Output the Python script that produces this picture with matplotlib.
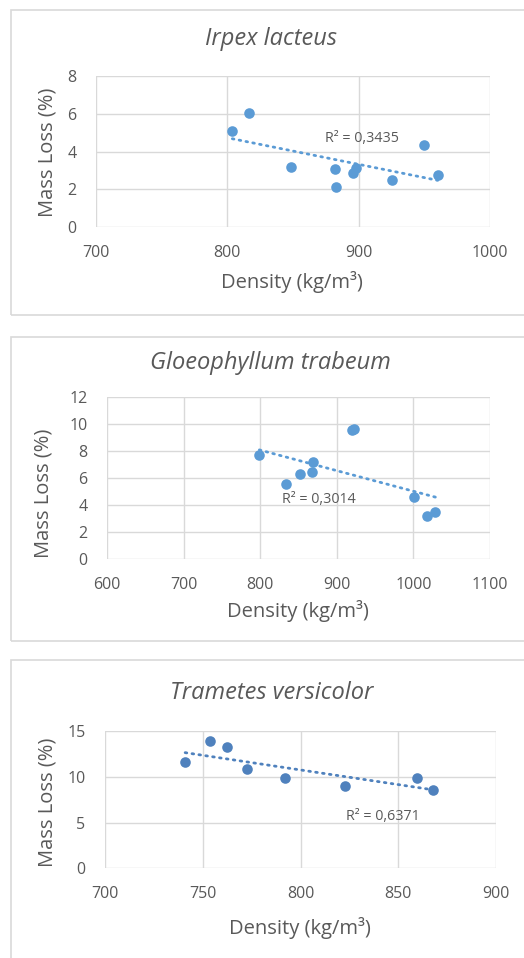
#!/usr/bin/env python3
"""Mass loss vs. density for three decay fungi, Excel-style scatter panels."""
import numpy as np
import matplotlib
matplotlib.use("Agg")
import matplotlib.pyplot as plt
from matplotlib.patches import Rectangle

W, H = 524, 958

# --- data ---
irpex_density = [803.8, 816.8, 848.2, 882.0, 882.7, 895.4, 898.0, 925.1, 949.5, 960.2]
irpex_loss = [5.11, 6.05, 3.20, 3.06, 2.12, 2.88, 3.13, 2.51, 4.35, 2.74]

gloeo_density = [798.9, 833.3, 852.0, 868.1, 869.4, 919.4, 922.9, 1001.3, 1017.4, 1028.7]
gloeo_loss = [7.75, 5.60, 6.32, 6.49, 7.23, 9.58, 9.68, 4.64, 3.19, 3.48]

trametes_density = [741.0, 753.6, 762.3, 772.5, 792.3, 822.7, 859.7, 867.7]
trametes_loss = [11.64, 13.94, 13.32, 10.84, 9.85, 9.01, 9.85, 8.61]

titles = ["Irpex lacteus", "Gloeophyllum trabeum", "Trametes versicolor"]
r2_labels = ["R² = 0,3435", "R² = 0,3014", "R² = 0,6371"]

TEXT = "#595959"
GRID = "#D9D9D9"
FONT = "Open Sans"


def fx(x):
    return x / W


def fy(y):
    return 1 - y / H


def panel(fig, box, frame, xs, ys, xlim, xticks, ylim, yticks, color,
          title, title_xy, xlabel_xy, ylabel_xy, r2, r2_xy):
    x0, y0, x1, y1 = box
    ax = fig.add_axes([fx(x0), fy(y1), (x1 - x0) / W, (y1 - y0) / H])

    # outer chart frame (cut off at the right edge like the screenshot)
    fy0, fy1 = frame
    fig.patches.append(Rectangle((fx(11), fy(fy1)), 1.0, (fy1 - fy0) / H,
                                 transform=fig.transFigure, fill=False,
                                 edgecolor=GRID, linewidth=1.2, zorder=0))

    ax.scatter(xs, ys, s=58, color=color, zorder=3, linewidths=0)

    # linear trendline over the data range
    k, b = np.polyfit(xs, ys, 1)
    tx = np.array([min(xs), max(xs)])
    ax.plot(tx, k * tx + b, color=color, linewidth=2.0,
            linestyle=(0, (0.6, 1.9)), dash_capstyle="round", zorder=2)

    ax.set_xlim(*xlim)
    ax.set_ylim(*ylim)
    ax.set_xticks(xticks)
    ax.set_yticks(yticks)
    ax.grid(True, color=GRID, linewidth=1.0)
    ax.set_axisbelow(True)
    for s in ax.spines.values():
        s.set_visible(False)
    ax.tick_params(length=0, labelsize=11.5, labelcolor=TEXT)
    ax.tick_params(axis="x", pad=13)
    ax.tick_params(axis="y", pad=14)
    for lbl in ax.get_xticklabels() + ax.get_yticklabels():
        lbl.set_family(FONT)

    fig.text(fx(title_xy[0]), fy(title_xy[1]), title, ha="center", va="center",
             fontsize=17, style="italic", color=TEXT, family=FONT)
    fig.text(fx(xlabel_xy[0]), fy(xlabel_xy[1]), "Density (kg/m³)",
             ha="center", va="center", fontsize=14.5, color=TEXT, family=FONT)
    fig.text(fx(ylabel_xy[0]), fy(ylabel_xy[1]), "Mass Loss (%)",
             ha="center", va="center", rotation=90, fontsize=14.5,
             color=TEXT, family=FONT)
    fig.text(fx(r2_xy[0]), fy(r2_xy[1]), r2, ha="left", va="center",
             fontsize=10.3, color=TEXT, family=FONT)
    return ax


fig = plt.figure(figsize=(W / 100, H / 100), dpi=100)
fig.patch.set_facecolor("white")

panel(fig, (96, 76, 490, 227), (10, 315), irpex_density, irpex_loss,
      (700, 1000), [700, 800, 900, 1000], (0, 8), [0, 2, 4, 6, 8],
      "#5B9BD5", titles[0], (271, 39), (292, 282), (48, 152),
      r2_labels[0], (325, 139))

panel(fig, (107, 397.3, 490, 559.3), (337, 641), gloeo_density, gloeo_loss,
      (600, 1100), [600, 700, 800, 900, 1000, 1100], (0, 12),
      [0, 2, 4, 6, 8, 10, 12],
      "#5B9BD5", titles[1], (270, 363), (298, 611), (44, 493),
      r2_labels[1], (282, 499))

panel(fig, (105, 731.3, 496, 868.3), (660, 990), trametes_density,
      trametes_loss, (700, 900), [700, 750, 800, 850, 900], (0, 15),
      [0, 5, 10, 15],
      "#4F81BD", titles[2], (272, 693), (300, 928), (48, 802),
      r2_labels[2], (346, 816))

fig.savefig("out.png", dpi=100)
